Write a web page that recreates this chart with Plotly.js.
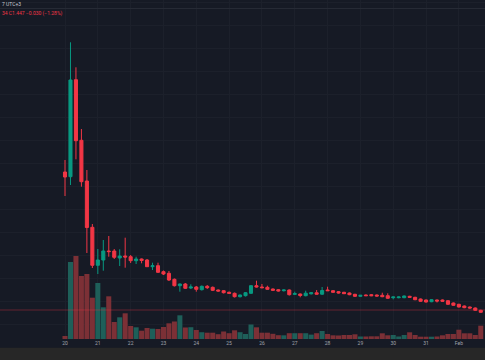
<!DOCTYPE html>
<html>
<head>
<meta charset="utf-8">
<script src="https://cdn.plot.ly/plotly-3.0.1.min.js"></script>
<style>
html,body{margin:0;padding:0;background:#161a25;}
#chart{width:485px;height:360px;}
</style>
</head>
<body>
<div id="chart"></div>
<script>
// 4-hour candles starting 20 Jan
const startDate = '2024-01-20T00:00:00Z';
const open = [2.827,2.780,3.750,3.144,2.737,2.274,1.894,1.947,2.037,2.037,
  1.967,1.987,1.980,1.940,1.957,1.947,1.880,1.890,1.830,1.814,
  1.754,1.690,1.707,1.667,1.677,1.650,1.684,1.674,1.647,1.640,
  1.624,1.614,1.580,1.590,1.614,1.690,1.677,1.674,1.657,1.650,
  1.640,1.647,1.604,1.607,1.590,1.609,1.619,1.605,1.647,1.640,
  1.630,1.624,1.617,1.604,1.584,1.597,1.600,1.597,1.594,1.590,
  1.570,1.570,1.570,1.584,1.574,1.557,1.547,1.530,1.547,1.547,
  1.540,1.517,1.504,1.487,1.477,1.467,1.444];
const high = [2.947,4.124,3.874,3.257,2.847,2.307,2.057,2.147,2.187,2.057,
  2.054,2.170,1.997,1.980,1.962,1.957,1.920,1.920,1.842,1.837,
  1.762,1.712,1.717,1.704,1.687,1.692,1.697,1.682,1.652,1.647,
  1.632,1.622,1.602,1.627,1.697,1.740,1.707,1.690,1.662,1.657,
  1.652,1.652,1.630,1.612,1.640,1.622,1.647,1.677,1.680,1.647,
  1.637,1.629,1.622,1.609,1.597,1.602,1.607,1.602,1.620,1.614,
  1.582,1.582,1.592,1.589,1.579,1.562,1.552,1.555,1.552,1.552,
  1.545,1.522,1.509,1.492,1.482,1.472,1.449];
const low = [2.587,2.697,2.954,2.680,2.017,1.867,1.807,1.840,1.980,1.957,
  1.887,1.870,1.917,1.907,1.914,1.877,1.847,1.817,1.797,1.737,
  1.682,1.630,1.657,1.657,1.630,1.642,1.657,1.637,1.632,1.612,
  1.607,1.572,1.572,1.582,1.607,1.672,1.664,1.649,1.637,1.632,
  1.632,1.592,1.597,1.574,1.584,1.602,1.602,1.599,1.637,1.619,
  1.612,1.607,1.595,1.577,1.579,1.587,1.585,1.582,1.575,1.559,
  1.554,1.564,1.565,1.569,1.545,1.529,1.522,1.525,1.522,1.529,
  1.499,1.489,1.472,1.465,1.462,1.439,1.419];
const close = [2.777,3.747,3.140,2.730,2.272,1.894,1.947,2.037,2.031,1.974,
  1.987,1.977,1.940,1.957,1.942,1.880,1.890,1.824,1.807,1.747,
  1.690,1.707,1.664,1.677,1.654,1.684,1.670,1.644,1.637,1.620,
  1.614,1.580,1.597,1.620,1.690,1.677,1.670,1.654,1.644,1.637,
  1.647,1.600,1.610,1.592,1.615,1.619,1.605,1.642,1.640,1.624,
  1.617,1.610,1.600,1.584,1.594,1.590,1.590,1.587,1.580,1.564,
  1.577,1.577,1.587,1.574,1.550,1.534,1.527,1.550,1.537,1.534,
  1.504,1.494,1.477,1.470,1.467,1.444,1.424];
const volume = [150,3850,4150,3150,3250,2065,2800,1585,2135,850,
  1085,1285,650,585,415,550,515,500,600,785,
  875,1185,575,590,450,340,315,315,240,375,
  290,435,340,250,725,585,315,315,260,190,
  185,290,290,290,290,220,290,400,250,185,
  175,200,200,235,125,125,135,135,285,185,
  200,125,200,335,200,115,115,115,125,185,
  250,250,465,285,285,200,665];
const tickLabels = ['20','21','22','23','24','25','26','27','28','29','30','31','Feb'];
const lastPrice = 1.447;
const headerTime = '7 UTC+3';
const headerQuote = '34 C1.447 \u22120.030 (\u22121.28%)';

const H = 3600e3;
const base = Date.parse(startDate);
function fmt(ms){
  const d = new Date(ms), p = n => String(n).padStart(2,'0');
  return d.getUTCFullYear()+'-'+p(d.getUTCMonth()+1)+'-'+p(d.getUTCDate())+' '+
    p(d.getUTCHours())+':'+p(d.getUTCMinutes())+':'+p(d.getUTCSeconds());
}
const x = open.map((_, i) => fmt(base + i*4*H));
const tickvals = tickLabels.map((_, i) => fmt(base + i*24*H));

const GREEN = '#089981', RED = '#f23645';
const volColors = open.map((o, i) => close[i] >= o ? '#1e5f59' : '#7c3036');

const volTrace = {
  type:'bar', x: x, y: volume, yaxis:'y',
  marker:{color: volColors, line:{width:0}},
  hoverinfo:'skip'
};
const candleTrace = {
  type:'candlestick', x: x, open: open, high: high, low: low, close: close,
  yaxis:'y2', whiskerwidth:0,
  increasing:{line:{color:GREEN, width:1}, fillcolor:GREEN},
  decreasing:{line:{color:RED, width:1}, fillcolor:RED},
  hoverinfo:'skip'
};

const plotH = 339;
const GRID = '#1c202b';
const layout = {
  width:485, height:360,
  margin:{l:0, r:0, t:0, b:21, pad:0},
  paper_bgcolor:'#161a25', plot_bgcolor:'#161a25',
  showlegend:false,
  bargap:0.08, boxgap:0.2,
  font:{family:'Roboto, "DejaVu Sans", sans-serif', color:'#9598a1'},
  xaxis:{
    type:'date',
    range:[fmt(base - 47.53*H), fmt(base + 307.1*H)],
    tickvals: tickvals, ticktext: tickLabels,
    tickfont:{size:5, color:'#a0a3ab'},
    showgrid:true, gridcolor:GRID, gridwidth:1,
    zeroline:false, showline:false, ticks:'',
    rangeslider:{visible:false}, fixedrange:true
  },
  yaxis:{
    range:[0, plotH*50],
    showgrid:true, gridcolor:GRID, tick0:750, dtick:1150,
    showticklabels:false, zeroline:false, showline:false, ticks:'', fixedrange:true
  },
  yaxis2:{
    overlaying:'y', side:'right',
    range:[lastPrice - 29*0.01, lastPrice + 310*0.01],
    showgrid:false, showticklabels:false, zeroline:false, showline:false, ticks:'', fixedrange:true
  },
  shapes:[
    {type:'line', xref:'paper', yref:'y2', x0:0, x1:1, y0:lastPrice, y1:lastPrice,
     line:{color:'rgba(242,54,69,0.35)', width:1}, layer:'above'},
    {type:'line', xref:'paper', yref:'paper', x0:0, x1:1, y0:1-8.5/plotH, y1:1-8.5/plotH,
     line:{color:'#262a35', width:1}, layer:'above'},
    {type:'rect', xref:'paper', yref:'paper', x0:-0.01, x1:1.01, y0:-0.08, y1:-8.7/plotH,
     fillcolor:'#272727', line:{width:0}, layer:'above'}
  ],
  annotations:[
    {xref:'paper', yref:'paper', x:0, y:1-4/plotH, xanchor:'left', yanchor:'middle',
     text: headerTime, showarrow:false, font:{size:5, color:'#c8cbd2'}},
    {xref:'paper', yref:'paper', x:0, y:1-13.5/plotH, xanchor:'left', yanchor:'middle',
     text: headerQuote, showarrow:false, font:{size:5, color:RED}}
  ]
};

Plotly.newPlot('chart', [volTrace, candleTrace], layout, {staticPlot:true, displayModeBar:false});
</script>
</body>
</html>
